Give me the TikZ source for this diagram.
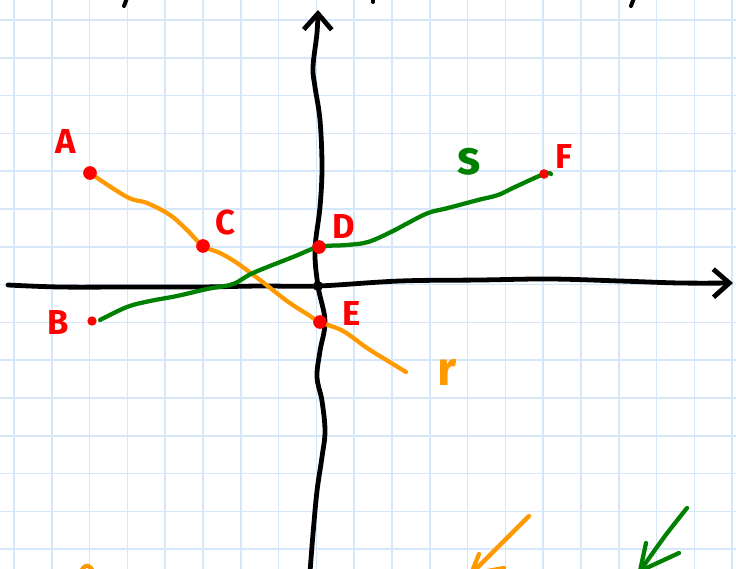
\documentclass[tikz,border=0pt]{standalone}
\usepackage{fontspec}
\usepackage{tikz}
\usetikzlibrary{arrows.meta}
\newfontfamily\sketchfont{Fira Sans}
\definecolor{gridblue}{RGB}{214,231,250}
\definecolor{penred}{RGB}{255,0,0}
\definecolor{penorange}{RGB}{255,153,0}
\definecolor{pengreen}{RGB}{0,128,0}

\begin{document}
\begin{tikzpicture}[x=0.026385cm,y=-0.026385cm,line cap=round,line join=round,
  >={Straight Barb[length=12pt,width=21pt]},
  font={\sketchfont\bfseries\fontsize{26pt}{26pt}\selectfont},
  axis/.style={black,line width=3.6pt},
  rline/.style={penorange,line width=3.2pt},
  sline/.style={pengreen,line width=3.2pt},
  dot/.style={circle,fill=penred,inner sep=0pt,minimum size=10pt},
  smalldot/.style={dot,minimum size=7pt},
  lab/.style={text=penred,inner sep=0pt},
  bigletter/.style={inner sep=0pt,font={\sketchfont\bfseries\fontsize{36pt}{36pt}\selectfont}}]
  \useasboundingbox (0,0) rectangle (736,569);
  \clip (0,0) rectangle (736,569);
  % squared paper
  \foreach \k in {0,...,19} \draw[gridblue,line width=1.1pt] ({14+37.8*\k},0) -- ++(0,569);
  \foreach \k in {0,...,14} \draw[gridblue,line width=1.1pt] (0,{20+37.8*\k}) -- ++(736,0);
  % points
  \coordinate (O) at (318,286);
  \coordinate (ytop) at (318,10);
  \coordinate (xend) at (733,283);
  \node[dot] (A) at (90,173) {};
  \node[smalldot] (B) at (92,321) {};
  \node[dot] (C) at (203,246) {};
  \node[dot] (D) at (319,247) {};
  \node[dot] (E) at (320,322) {};
  \node[smalldot] (F) at (544,174) {};
  \coordinate (rend) at (406,372);
  \coordinate (send) at (100,320);
  % axes
  \draw[axis,->] plot[smooth,tension=0.6] coordinates {(310,572) (313,534) (317,491) (322,457)
    (325,431) (322,401) (317,377) (320,351) (325,321) (O) (315,250) (320,207) (322,167)
    (320,120) (315,87) (313,67) (317,33) (ytop)};
  \draw[axis,->] plot[smooth,tension=0.6] coordinates {(8,285) (60,287) (130,287) (200,287)
    (260,286) (O) (400,281) (480,280) (550,279) (620,281) (680,283) (xend)};
  % line r
  \draw[rline] plot[smooth,tension=0.6] coordinates {(A.center) (127,197) (147,203) (170,215)
    (187,230) (C.center) (220,253) (237,263) (260,280) (287,301) (307,314) (E.center)
    (343,331) (367,348) (388,361) (rend)};
  % line s
  \draw[sline] plot[smooth,tension=0.6] coordinates {(send) (127,307) (150,301) (177,296)
    (207,289) (233,284) (253,273) (293,257) (D.center) (347,245) (368,242) (391,232)
    (408,223) (428,213) (448,208) (478,200) (498,195) (515,187) (F.center) (551,174)};
  \node[dot] at (A) {};
  \node[dot] at (C) {};
  \node[dot] at (D) {};
  \node[dot] at (E) {};
  \node[smalldot] at (F) {};
  \fill (O) circle (5);
  % labels
  \node[lab] (labA) at (66,141) {A};
  \node[lab] (labB) at (58,322) {B};
  \node[lab] (labC) at (225,222) {C};
  \node[lab] (labD) at (344,226) {D};
  \node[lab] (labE) at (352,313) {E};
  \node[lab] (labF) at (564,156) {F};
  \node[bigletter,text=pengreen] (labs) at (469,162) {s};
  \node[bigletter,text=penorange] (labr) at (447,372) {r};
  % cut-off strokes at the edges
  \draw[black,line width=3pt] (127,-2) -- (124,6);
  \draw[black,line width=3pt] (373,-2) -- (373,2);
  \draw[black,line width=3pt] (634,-2) -- (631,6);
  \draw[rline] (80,574) .. controls (84,563) and (90,563) .. (94,574);
  \coordinate (rtip) at (471,574);
  \coordinate (stip) at (640,571);
  \draw[rline] (529,516) -- (rtip);
  \draw[rline] (479,554) -- (rtip) -- (504,568);
  \draw[sline] plot[smooth] coordinates {(687,508) (665,536) (stip)};
  \draw[sline] (646,543) -- (stip) -- (679,553);
\end{tikzpicture}
\end{document}
